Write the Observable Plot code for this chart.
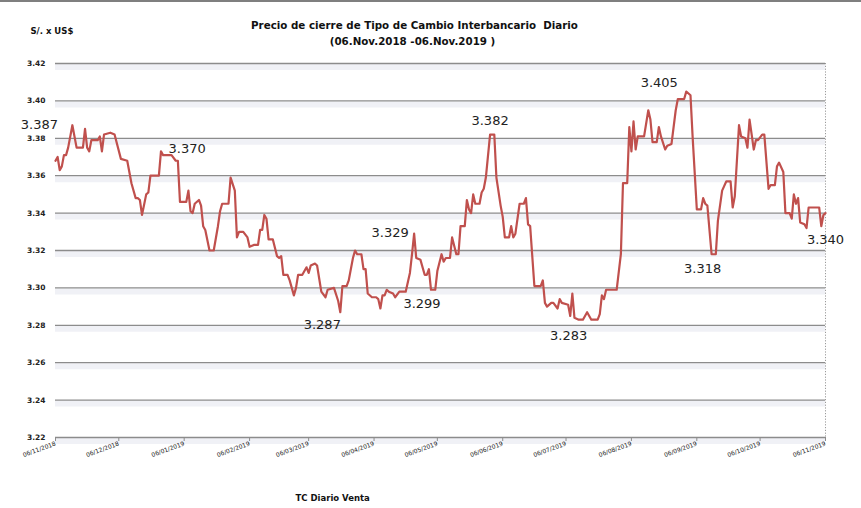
<!DOCTYPE html>
<html><head><meta charset="utf-8">
<script src="https://cdn.jsdelivr.net/npm/d3@7"></script>
<script src="https://cdn.jsdelivr.net/npm/@observablehq/plot@0.6"></script>
<style>
body{margin:0;background:#fff;}
#wrap{position:relative;width:861px;height:508px;overflow:hidden;background:#fff;}
#topbar{position:absolute;left:0;top:0;width:861px;height:2px;background:#7f7f7f;}
</style></head><body><div id="wrap"><div id="topbar"></div></div>
<script>
const dates = [
"2018-11-06","2018-11-07","2018-11-08","2018-11-09","2018-11-10","2018-11-11","2018-11-12","2018-11-14","2018-11-16","2018-11-19",
"2018-11-20","2018-11-21","2018-11-22","2018-11-23","2018-11-26","2018-11-27","2018-11-28","2018-11-29","2018-12-02","2018-12-04",
"2018-12-07","2018-12-10","2018-12-12","2018-12-14","2018-12-15","2018-12-16","2018-12-17","2018-12-19","2018-12-20","2018-12-21",
"2018-12-25","2018-12-26","2018-12-27","2018-12-31","2019-01-02","2019-01-03","2019-01-04","2019-01-07","2019-01-08","2019-01-09",
"2019-01-10","2019-01-11","2019-01-13","2019-01-14","2019-01-15","2019-01-16","2019-01-18","2019-01-20","2019-01-22","2019-01-23",
"2019-01-24","2019-01-27","2019-01-28","2019-01-30","2019-01-31","2019-02-01","2019-02-03","2019-02-05","2019-02-06","2019-02-08",
"2019-02-10","2019-02-11","2019-02-12","2019-02-13","2019-02-14","2019-02-15","2019-02-17","2019-02-19","2019-02-20","2019-02-21",
"2019-02-22","2019-02-24","2019-02-25","2019-02-27","2019-02-28","2019-03-01","2019-03-03","2019-03-05","2019-03-06","2019-03-07",
"2019-03-09","2019-03-10","2019-03-12","2019-03-14","2019-03-15","2019-03-18","2019-03-20","2019-03-21","2019-03-22","2019-03-24",
"2019-03-25","2019-03-27","2019-03-28","2019-03-29","2019-03-31","2019-04-01","2019-04-02","2019-04-03","2019-04-05","2019-04-07",
"2019-04-08","2019-04-09","2019-04-10","2019-04-11","2019-04-12","2019-04-13","2019-04-15","2019-04-16","2019-04-18","2019-04-21",
"2019-04-23","2019-04-24","2019-04-25","2019-04-26","2019-04-28","2019-04-30","2019-05-01","2019-05-02","2019-05-03","2019-05-05",
"2019-05-06","2019-05-08","2019-05-09","2019-05-10","2019-05-12","2019-05-13","2019-05-15","2019-05-16","2019-05-17","2019-05-19",
"2019-05-20","2019-05-21","2019-05-22","2019-05-23","2019-05-24","2019-05-26","2019-05-27","2019-05-28","2019-05-29","2019-05-31",
"2019-06-02","2019-06-03","2019-06-05","2019-06-06","2019-06-07","2019-06-09","2019-06-10","2019-06-11","2019-06-12","2019-06-14",
"2019-06-16","2019-06-17","2019-06-18","2019-06-19","2019-06-21","2019-06-24","2019-06-25","2019-06-26","2019-06-27","2019-06-29",
"2019-06-30","2019-07-02","2019-07-03","2019-07-04","2019-07-07","2019-07-08","2019-07-09","2019-07-10","2019-07-12","2019-07-14",
"2019-07-16","2019-07-18","2019-07-21","2019-07-22","2019-07-23","2019-07-24","2019-07-25","2019-07-30","2019-08-01","2019-08-02",
"2019-08-04","2019-08-05","2019-08-06","2019-08-07","2019-08-08","2019-08-09","2019-08-12","2019-08-14","2019-08-15","2019-08-16",
"2019-08-18","2019-08-19","2019-08-20","2019-08-22","2019-08-23","2019-08-25","2019-08-27","2019-08-28","2019-08-31","2019-09-01",
"2019-09-03","2019-09-04","2019-09-06","2019-09-08","2019-09-09","2019-09-10","2019-09-11","2019-09-13","2019-09-15","2019-09-16",
"2019-09-18","2019-09-20","2019-09-22","2019-09-23","2019-09-24","2019-09-26","2019-09-27","2019-09-29","2019-09-30","2019-10-01",
"2019-10-03","2019-10-04","2019-10-05","2019-10-07","2019-10-08","2019-10-10","2019-10-11","2019-10-13","2019-10-14","2019-10-15",
"2019-10-17","2019-10-18","2019-10-20","2019-10-21","2019-10-22","2019-10-23","2019-10-24","2019-10-25","2019-10-27","2019-10-28",
"2019-10-29","2019-10-30","2019-11-03","2019-11-04","2019-11-05","2019-11-06"
];
const values = [
3.368,3.370,3.363,3.365,3.371,3.371,3.375,3.387,3.375,3.375,
3.385,3.375,3.373,3.379,3.379,3.381,3.373,3.382,3.383,3.382,
3.369,3.368,3.356,3.348,3.348,3.347,3.339,3.350,3.351,3.360,
3.360,3.373,3.371,3.371,3.368,3.368,3.346,3.346,3.352,3.341,
3.340,3.345,3.347,3.344,3.333,3.331,3.320,3.320,3.333,3.341,
3.345,3.345,3.359,3.352,3.327,3.330,3.330,3.327,3.322,3.323,
3.323,3.331,3.331,3.339,3.337,3.326,3.326,3.317,3.316,3.317,
3.307,3.307,3.304,3.296,3.300,3.307,3.307,3.311,3.308,3.312,
3.313,3.312,3.298,3.295,3.299,3.300,3.293,3.287,3.301,3.301,
3.304,3.316,3.320,3.318,3.318,3.310,3.310,3.297,3.295,3.295,
3.294,3.289,3.296,3.296,3.299,3.298,3.297,3.295,3.298,3.298,
3.308,3.318,3.329,3.316,3.315,3.307,3.307,3.310,3.299,3.299,
3.309,3.318,3.314,3.316,3.316,3.327,3.318,3.318,3.333,3.333,
3.347,3.342,3.340,3.350,3.345,3.345,3.351,3.353,3.359,3.382,
3.382,3.359,3.344,3.338,3.327,3.327,3.333,3.327,3.329,3.345,
3.345,3.348,3.334,3.333,3.301,3.301,3.304,3.292,3.290,3.292,
3.292,3.289,3.294,3.292,3.291,3.285,3.297,3.284,3.283,3.283,
3.287,3.283,3.283,3.286,3.296,3.294,3.299,3.299,3.318,3.356,
3.356,3.386,3.373,3.389,3.374,3.381,3.381,3.395,3.390,3.378,
3.378,3.386,3.381,3.374,3.376,3.377,3.395,3.401,3.401,3.405,
3.403,3.381,3.342,3.342,3.348,3.345,3.344,3.318,3.318,3.336,
3.352,3.357,3.357,3.343,3.349,3.387,3.381,3.380,3.375,3.390,
3.374,3.379,3.379,3.382,3.382,3.353,3.355,3.355,3.365,3.367,
3.362,3.340,3.340,3.337,3.350,3.345,3.348,3.335,3.334,3.332,
3.343,3.343,3.343,3.333,3.339,3.340
];
const yTicks = [3.22,3.24,3.26,3.28,3.30,3.32,3.34,3.36,3.38,3.40,3.42];
const xTickDates = ["2018-11-06","2018-12-06","2019-01-06","2019-02-06","2019-03-06","2019-04-06","2019-05-06","2019-06-06","2019-07-06","2019-08-06","2019-09-06","2019-10-06","2019-11-06"];
const xTickLabels = ["06/11/2018","06/12/2018","06/01/2019","06/02/2019","06/03/2019","06/04/2019","06/05/2019","06/06/2019","06/07/2019","06/08/2019","06/09/2019","06/10/2019","06/11/2019"];
const labelDates = ["2018-11-14","2018-12-27","2019-03-21","2019-04-25","2019-05-03","2019-05-31","2019-07-12","2019-09-01","2019-09-13","2019-11-06"];
const labelValues = [3.387,3.370,3.287,3.329,3.299,3.382,3.283,3.405,3.318,3.340];
const titleText = "Precio de cierre de Tipo de Cambio Interbancario  Diario";
const subtitleText = "(06.Nov.2018 -06.Nov.2019 )";
const unitText = "S/. x US$";
const legendText = "TC Diario Venta";

const parse = d3.utcParse("%Y-%m-%d");
const rows = dates.map((d, i) => ({date: parse(d), value: values[i]}));
const tickDates = xTickDates.map(parse);
const labels = labelDates.map((d, i) => ({date: parse(d), value: labelValues[i]}));
// label placement offsets (layout only)
const labelDx = [-33, 24, -18, -24, -9, 0, -10, -27, -9, 0];
const labelDy = [0, -8.5, 13, -1, 14, -14, 16, -9, 15, 27];

const chart = Plot.plot({
  width: 861, height: 508,
  marginLeft: 55, marginRight: 36, marginTop: 63, marginBottom: 71,
  style: {fontFamily: "DejaVu Sans", background: "white", overflow: "visible"},
  x: {type: "utc", domain: [tickDates[0], tickDates[tickDates.length - 1]]},
  y: {domain: [3.22, 3.42]},
  marks: [
    Plot.ruleY(yTicks, {stroke: "#f0f1f6", strokeWidth: 6, dy: 3.5}),
    Plot.ruleY(yTicks, {stroke: "#8c8c8c", strokeWidth: 1.3}),
    Plot.ruleX([tickDates[tickDates.length - 1]], {stroke: "#9a9a9a", strokeDasharray: "1.2,1.6"}),
    Plot.axisY({ticks: yTicks, tickSize: 0, tickPadding: 10, tickFormat: d3.format(".2f"), fontSize: 7.5, fontWeight: "bold", fill: "#222", label: null}),
    Plot.axisX({ticks: tickDates, tickSize: 4, stroke: "#8c8c8c", tickPadding: 2, tickRotate: -20, fontSize: 6, fill: "#222", label: null,
      tickFormat: (d) => xTickLabels[tickDates.findIndex(t => +t === +d)]}),
    Plot.line(rows, {x: "date", y: "value", stroke: "#c0504d", strokeWidth: 2.2}),
    ...labels.map((l, i) => Plot.text([l], {x: "date", y: "value", text: d => d.value.toFixed(3),
      fontSize: 13, fill: "#222", dx: labelDx[i], dy: labelDy[i]})),
    Plot.text([titleText], {frameAnchor: "top", dx: -26, dy: -42, fontSize: 10.3, fontWeight: "bold", fill: "#111"}),
    Plot.text([subtitleText], {frameAnchor: "top", dx: -28, dy: -26, fontSize: 10.3, fontWeight: "bold", fill: "#111"}),
    Plot.text([unitText], {frameAnchor: "top-left", textAnchor: "start", dx: -25, dy: -36, fontSize: 8.5, fontWeight: "bold", fill: "#111"}),
    Plot.text([legendText], {frameAnchor: "bottom-left", textAnchor: "start", dx: 240, dy: 63, fontSize: 8.5, fontWeight: "bold", fill: "#111"})
  ]
});
document.getElementById("wrap").appendChild(chart);
</script>
</body></html>
